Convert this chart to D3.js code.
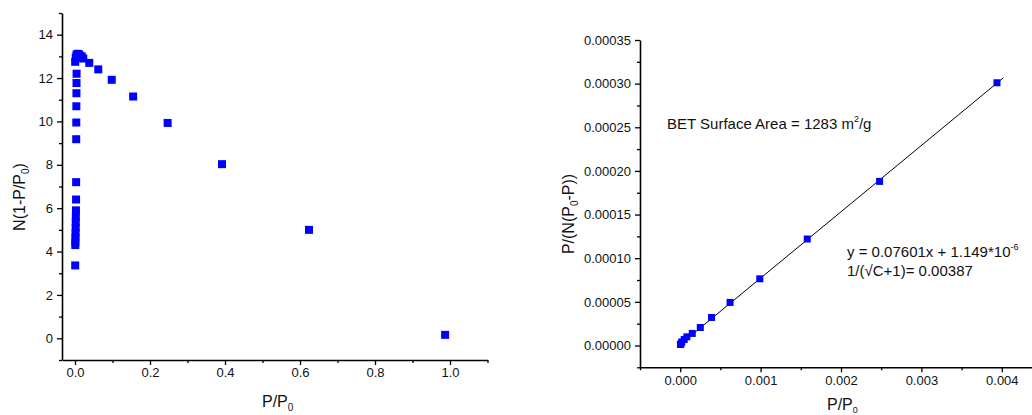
<!DOCTYPE html>
<html><head><meta charset="utf-8">
<script src="https://cdn.jsdelivr.net/npm/d3@7"></script>
<style>
html,body{margin:0;padding:0;background:#fff;}
svg{display:block;font-family:"Liberation Sans",Arial,sans-serif;}
</style></head>
<body><svg id="c" width="1032" height="415"></svg>
<script>
// ---- Left chart data (Rouquerol plot) ----
const leftX = [0.0005,0.0008,0.001,0.0012,0.0015,0.0018,0.002,0.0022,0.0025,0.0028,0.003,0.0032,0.0034,0.0036,0.0038,0.004,0.0042,
               0.0005,0.002,0.004,0.007,0.010,0.013,0.018,0.022,0.038,0.062,0.098,0.155,0.247,0.392,0.624,0.987];
const leftY = [3.36,4.3,4.45,4.65,4.85,5.1,5.35,5.6,5.9,6.4,7.2,9.18,9.95,10.7,11.3,11.77,12.2,
               12.75,12.95,13.08,13.12,13.1,13.04,13.0,12.9,12.7,12.4,11.92,11.15,9.93,8.03,5.0,0.16];
const leftXTicks = [0.0,0.2,0.4,0.6,0.8,1.0];
const leftXMinor = [0.1,0.3,0.5,0.7,0.9,1.1];
const leftYTicks = [0,2,4,6,8,10,12,14];
const leftYMinor = [-1,1,3,5,7,9,11,13,15];

// ---- Right chart data (BET plot) ----
const rightX = [0.000003,0.00001,0.00002,0.00005,0.000083,0.00015,0.00025,0.00039,0.00062,0.00099,0.00158,0.00248,0.00394];
const rightY = [0.0000011,0.0000020,0.0000041,0.0000069,0.0000099,0.0000138,0.0000206,0.0000321,0.0000493,0.0000764,0.000122,0.000188,0.000301];
const fitSlope = 0.07601, fitIntercept = 1.149e-6;
const fitRange = [0.0, 0.00402];
const rightXTicks = [0.000,0.001,0.002,0.003,0.004];
const rightXMinor = [-0.0005,0.0005,0.0015,0.0025,0.0035,0.0045];
const rightYTicks = [0,0.00005,0.00010,0.00015,0.00020,0.00025,0.00030,0.00035];
const rightYMinor = [-0.000025,0.000025,0.000075,0.000125,0.000175,0.000225,0.000275,0.000325];

const svg = d3.select("#c");
const BLUE = "#0000ff";
const TICKFONT = 13;
const TITLEFONT = 16;
const NOTEFONT = 15;

function drawAxes(g, x, y, xTicks, xMinor, yTicks, yMinor, xFmt, yFmt){
  const x0 = x.range()[0], y0 = y.range()[0];
  g.append("g").attr("transform",`translate(0,${y0})`)
    .call(d3.axisBottom(x).tickValues(xTicks).tickFormat(xFmt).tickSize(5).tickSizeOuter(0).tickPadding(3));
  g.append("g").attr("transform",`translate(0,${y0})`)
    .call(d3.axisBottom(x).tickValues(xMinor).tickFormat("").tickSize(3).tickSizeOuter(0))
    .select(".domain").remove();
  g.append("g").attr("transform",`translate(${x0},0)`)
    .call(d3.axisLeft(y).tickValues(yTicks).tickFormat(yFmt).tickSize(5).tickSizeOuter(0).tickPadding(4));
  g.append("g").attr("transform",`translate(${x0},0)`)
    .call(d3.axisLeft(y).tickValues(yMinor).tickFormat("").tickSize(3).tickSizeOuter(0))
    .select(".domain").remove();
  g.selectAll(".domain").attr("stroke","#000").attr("stroke-width",1.6);
  g.selectAll(".tick line").attr("stroke","#000").attr("stroke-width",1.3);
  g.selectAll(".tick text").attr("font-size",TICKFONT).attr("fill","#111")
    .attr("font-family","'Liberation Sans',Arial,sans-serif");
}

// ---------- Left chart ----------
const gL = svg.append("g");
const xL = d3.scaleLinear().domain([-0.0347,1.1]).range([62,487.5]);
const yL = d3.scaleLinear().domain([-1,15]).range([360,13]);
drawAxes(gL, xL, yL, leftXTicks, leftXMinor, leftYTicks, leftYMinor, d3.format(".1f"), d3.format("d"));
const sL = 8;
gL.append("g").selectAll("rect").data(leftX.map((v,i)=>[v,leftY[i]])).join("rect")
  .attr("x",d=>xL(d[0])-sL/2).attr("y",d=>yL(d[1])-sL/2)
  .attr("width",sL).attr("height",sL).attr("fill",BLUE);

// left axis titles
const tL = gL.append("text").attr("font-size",TITLEFONT).attr("fill","#111")
  .attr("text-anchor","middle").attr("transform","translate(25,197) rotate(-90)");
tL.append("tspan").text("N(1-P/P");
tL.append("tspan").text("0").attr("font-size",10).attr("dy",4);
tL.append("tspan").text(")").attr("dy",-4);
const xtL = gL.append("text").attr("font-size",TITLEFONT).attr("fill","#111")
  .attr("x",262).attr("y",407);
xtL.append("tspan").text("P/P");
xtL.append("tspan").text("0").attr("font-size",10).attr("dy",4);

// ---------- Right chart ----------
const gR = svg.append("g");
const xR = d3.scaleLinear().domain([-0.0005,0.0045]).range([640,1042]);
const yR = d3.scaleLinear().domain([-0.000025,0.00035]).range([367.3,40]);
drawAxes(gR, xR, yR, rightXTicks, rightXMinor, rightYTicks, rightYMinor, d3.format(".3f"), d3.format(".5f"));

gR.append("line")
  .attr("x1",xR(fitRange[0])).attr("y1",yR(fitSlope*fitRange[0]+fitIntercept))
  .attr("x2",xR(fitRange[1])).attr("y2",yR(fitSlope*fitRange[1]+fitIntercept))
  .attr("stroke","#000").attr("stroke-width",1);
const sR = 7;
gR.append("g").selectAll("rect").data(rightX.map((v,i)=>[v,rightY[i]])).join("rect")
  .attr("x",d=>xR(d[0])-sR/2).attr("y",d=>yR(d[1])-sR/2)
  .attr("width",sR).attr("height",sR).attr("fill",BLUE);

const tR = gR.append("text").attr("font-size",TITLEFONT).attr("fill","#111")
  .attr("text-anchor","middle").attr("transform","translate(574,214) rotate(-90)");
tR.append("tspan").text("P/(N(P");
tR.append("tspan").text("0").attr("font-size",10).attr("dy",4);
tR.append("tspan").text("-P))").attr("dy",-4);
const xtR = gR.append("text").attr("font-size",TITLEFONT).attr("fill","#111")
  .attr("x",827).attr("y",410);
xtR.append("tspan").text("P/P");
xtR.append("tspan").text("0").attr("font-size",9).attr("dy",3);

// annotations
const a1 = gR.append("text").attr("font-size",NOTEFONT).attr("fill","#111").attr("x",667).attr("y",129);
a1.append("tspan").text("BET Surface Area = 1283 m");
a1.append("tspan").text("2").attr("font-size",9).attr("dy",-7);
a1.append("tspan").text("/g").attr("dy",7);
const a2 = gR.append("text").attr("font-size",NOTEFONT).attr("fill","#111").attr("x",847).attr("y",257);
a2.append("tspan").text("y = 0.07601x + 1.149*10");
a2.append("tspan").text("-6").attr("font-size",9).attr("dy",-7);
gR.append("text").attr("font-size",NOTEFONT).attr("fill","#111").attr("x",847).attr("y",276)
  .text("1/(\u221AC+1)= 0.00387");
</script></body></html>
